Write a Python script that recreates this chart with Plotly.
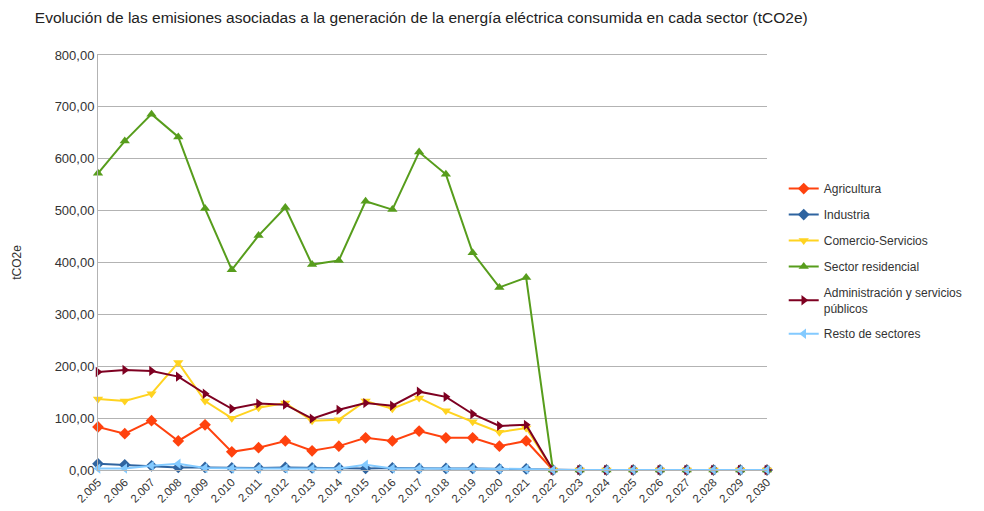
"""Emisiones por sector (tCO2e), line chart."""

import plotly.graph_objects as go

years = [f"2.{y:03d}" for y in range(5, 31)]

agricultura = [83, 70, 95, 56, 87, 35, 43, 56, 37, 46, 62, 56, 75, 62, 62, 46, 56, 0,
               0, 0, 0, 0, 0, 0, 0, 0]
industria = [12, 10, 8, 5, 5, 4, 4, 5, 4, 4, 3, 4, 3, 3, 3, 2, 2, 0,
             0, 0, 0, 0, 0, 0, 0, 0]
comercio = [137, 133, 147, 207, 133, 100, 120, 129, 95, 97, 133, 118, 139, 114, 93, 73, 81, 0,
            0, 0, 0, 0, 0, 0, 0, 0]
residencial = [572, 634, 686, 642, 504, 386, 452, 506, 396, 404, 518, 502, 613, 570, 419, 352, 371, 0,
               0, 0, 0, 0, 0, 0, 0, 0]
administracion = [189, 193, 191, 180, 147, 118, 128, 126, 99, 116, 129, 124, 151, 141, 108, 85, 87, 0,
                  0, 0, 0, 0, 0, 0, 0, 0]
resto = [3, 3, 8, 12, 4, 3, 3, 3, 3, 3, 10, 3, 3, 3, 3, 2, 2, 0,
         0, 0, 0, 0, 0, 0, 0, 0]

series = [
    ("Agricultura", agricultura, "#ff420e", "diamond"),
    ("Industria", industria, "#2f64a0", "diamond"),
    ("Comercio-Servicios", comercio, "#ffd320", "triangle-down"),
    ("Sector residencial", residencial, "#579d1c", "triangle-up"),
    ("Administración y servicios<br>públicos", administracion, "#7e0021", "triangle-right"),
    ("Resto de sectores", resto, "#83caff", "triangle-left"),
]

fig = go.Figure()
for i, (name, values, color, symbol) in enumerate(series):
    fig.add_trace(
        go.Scatter(
            x=years,
            y=values,
            name=name,
            mode="lines+markers",
            line={"color": color, "width": 2},
            marker={"symbol": symbol, "size": 9, "color": color},
            legendgroup=str(i),
            cliponaxis=False,
        )
    )

# the page body adds an 8px offset, margins compensate for it
fig.update_layout(
    width=984,
    height=511,
    paper_bgcolor="white",
    plot_bgcolor="white",
    separators=", ",
    font={"family": "Liberation Sans, DejaVu Sans, sans-serif", "color": "#333333"},
    margin={"l": 90, "r": 225, "t": 47, "b": 49},
    title={
        "text": "Evolución de las emisiones asociadas a la generación de la energía eléctrica consumida en cada sector (tCO2e)",
        "x": 0.42,
        "xanchor": "center",
        "y": 0.982,
        "yanchor": "middle",
        "font": {"size": 15.5, "color": "#222222"},
    },
    xaxis={
        "type": "category",
        "range": [0, 25],
        "automargin": False,
        "tickangle": -45,
        "tickfont": {"size": 11.5},
        "showgrid": False,
        "showline": True,
        "linecolor": "#b3b3b3",
        "mirror": True,
        "ticks": "",
    },
    yaxis={
        "title": {"text": "tCO2e", "font": {"size": 12}, "standoff": 30},
        "automargin": False,
        "range": [0, 800],
        "dtick": 100,
        "tickformat": ".2f",
        "tickfont": {"size": 13},
        "showgrid": True,
        "gridcolor": "#b3b3b3",
        "showline": True,
        "linecolor": "#b3b3b3",
        "zeroline": False,
    },
    legend={
        "x": 1.025,
        "xanchor": "left",
        "y": 0.713,
        "yanchor": "top",
        "font": {"size": 12},
        "tracegroupgap": 7,
        "bgcolor": "rgba(0,0,0,0)",
    },
)

fig.write_html("out.html")
